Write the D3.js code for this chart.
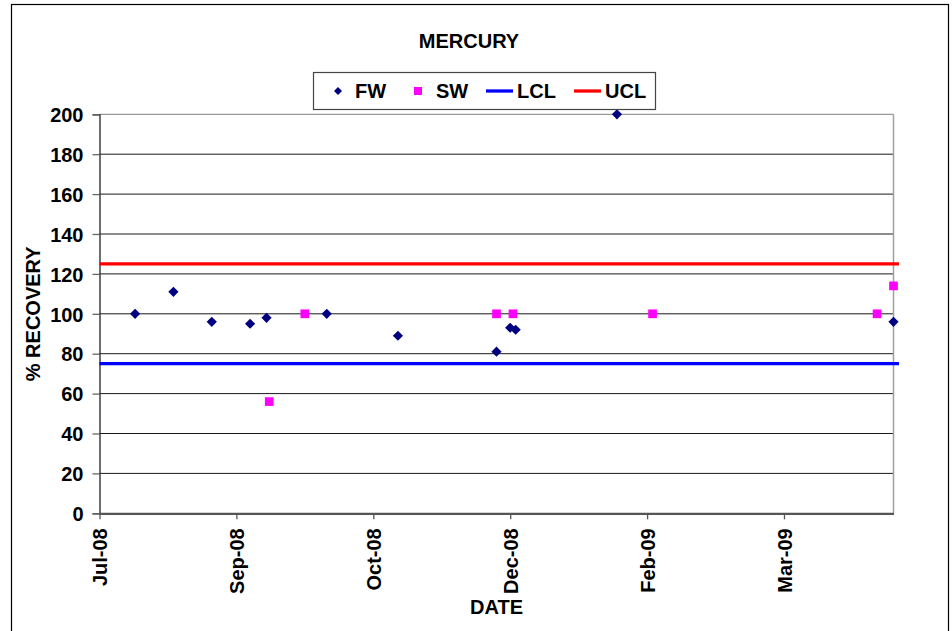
<!DOCTYPE html>
<html>
<head>
<meta charset="utf-8">
<script src="https://cdn.jsdelivr.net/npm/d3@7"></script>
<style>
  html, body { margin: 0; padding: 0; background: #fff; }
  svg { display: block; }
  text { font-family: "Liberation Sans", Arial, sans-serif; font-weight: bold; fill: #000; }
</style>
</head>
<body>
<script>
// Mercury % recovery, quality control chart
const fwDates  = ["2008-08-02","2008-08-16","2008-08-30","2008-09-13","2008-09-19","2008-10-11",
                  "2008-11-06","2008-12-12","2008-12-17","2008-12-19","2009-01-25","2009-05-06"];
const fwValues = [100, 111, 96, 95, 98, 100, 89, 81, 93, 92, 200, 96];

const swDates  = ["2008-09-20","2008-10-03","2008-12-12","2008-12-18","2009-02-07","2009-04-30","2009-05-06"];
const swValues = [56, 100, 100, 100, 100, 100, 114];

const limitDates = ["2008-07-20", "2009-05-08"];
const lclValues  = [75, 75];
const uclValues  = [125, 125];

const yTicks     = [0, 20, 40, 60, 80, 100, 120, 140, 160, 180, 200];
const xTickDates = ["2008-07-20","2008-09-08","2008-10-28","2008-12-17","2009-02-05","2009-03-27"];
const axisDomain = ["2008-07-20", "2009-05-06"];

const legendItems = ["FW", "SW", "LCL", "UCL"];

const W = 952, H = 631;
const plot = { left: 99.5, right: 893.5, top: 114.3, bottom: 513.3 };
const parse = d3.utcParse("%Y-%m-%d");
const fmt = d3.utcFormat("%b-%y");

const svg = d3.select("body").append("svg").attr("width", W).attr("height", H);

// outer frame of the chart
svg.append("rect").attr("x", 11.5).attr("y", 4.5).attr("width", 937).attr("height", 640)
  .attr("fill", "#fff").attr("stroke", "#000").attr("stroke-width", 1.2);

const x = d3.scaleUtc().domain(axisDomain.map(parse)).range([plot.left, plot.right]);
const y = d3.scaleLinear().domain([0, 200]).range([plot.bottom, plot.top]);

// horizontal gridlines
svg.append("g").selectAll("line").data(yTicks.filter(v => v > 0)).join("line")
  .attr("x1", plot.left).attr("x2", plot.right)
  .attr("y1", d => y(d)).attr("y2", d => y(d))
  .attr("stroke", d => d === 200 ? "#808080" : "#1a1a1a").attr("stroke-width", 1);

// right border of plot area
svg.append("line").attr("x1", plot.right).attr("x2", plot.right)
  .attr("y1", plot.top).attr("y2", plot.bottom).attr("stroke", "#a0a0a0").attr("stroke-width", 1.5);

// y axis
const yAxis = d3.axisLeft(y).tickValues(yTicks).tickSize(7).tickPadding(9).tickFormat(d3.format("d"));
const gy = svg.append("g").attr("transform", `translate(${plot.left},0)`).call(yAxis);
gy.select(".domain").attr("stroke", "#222").attr("stroke-width", 1.3);
gy.selectAll(".tick line").attr("stroke", "#666").attr("stroke-width", 1.3);
gy.selectAll(".tick text").style("font-size", "20px").attr("dy", "0.36em");

// x axis
const xAxis = d3.axisBottom(x).tickValues(xTickDates.map(parse)).tickSize(6).tickSizeOuter(0).tickFormat(fmt);
const gx = svg.append("g").attr("transform", `translate(0,${plot.bottom})`).call(xAxis);
gx.select(".domain").attr("stroke", "#555").attr("stroke-width", 2.2);
gx.selectAll(".tick line").attr("stroke", "#555").attr("stroke-width", 1.3);
gx.selectAll(".tick text")
  .style("font-size", "20px")
  .attr("text-anchor", "end")
  .attr("transform", "rotate(-90)")
  .attr("x", -15).attr("y", 0).attr("dy", "0.36em");

// control limit lines
const limitLine = d3.line().x((d, i) => x(parse(limitDates[i]))).y(d => y(d));
svg.append("path").datum(lclValues).attr("d", limitLine)
  .attr("fill", "none").attr("stroke", "#0000ff").attr("stroke-width", 3.3);
svg.append("path").datum(uclValues).attr("d", limitLine)
  .attr("fill", "none").attr("stroke", "#ff0000").attr("stroke-width", 3.3);

// FW markers (diamonds)
const diamond = d3.symbol().type(d3.symbolSquare).size(52)();
svg.append("g").selectAll("path").data(fwValues).join("path")
  .attr("d", diamond)
  .attr("transform", (d, i) => `translate(${x(parse(fwDates[i]))},${y(d)}) rotate(45)`)
  .attr("fill", "#000080");

// SW markers (squares)
const square = d3.symbol().type(d3.symbolSquare).size(76)();
svg.append("g").selectAll("path").data(swValues).join("path")
  .attr("d", square)
  .attr("transform", (d, i) => `translate(${x(parse(swDates[i]))},${y(d)})`)
  .attr("fill", "#ff00ff");

// titles
svg.append("text").attr("x", 469).attr("y", 48).attr("text-anchor", "middle")
  .style("font-size", "20px").text("MERCURY");
svg.append("text").attr("transform", `translate(40,${(plot.top + plot.bottom) / 2}) rotate(-90)`)
  .attr("text-anchor", "middle").style("font-size", "20px").text("% RECOVERY");
svg.append("text").attr("x", (plot.left + plot.right) / 2).attr("y", 614).attr("text-anchor", "middle")
  .style("font-size", "20px").text("DATE");

// legend
const lg = svg.append("g");
lg.append("rect").attr("x", 313.5).attr("y", 72.5).attr("width", 342).attr("height", 37)
  .attr("fill", "#fff").attr("stroke", "#444").attr("stroke-width", 1.2);
const legendY = 91;
const legendLayout = [
  { mark: 338, text: 355 },
  { mark: 418, text: 436 },
  { mark: 486, text: 517 },
  { mark: 574, text: 605 }
];
legendItems.forEach((name, i) => {
  const L = legendLayout[i];
  if (name === "FW") {
    lg.append("path").attr("d", d3.symbol().type(d3.symbolSquare).size(32)())
      .attr("transform", `translate(${L.mark},${legendY}) rotate(45)`).attr("fill", "#000080");
  } else if (name === "SW") {
    lg.append("path").attr("d", d3.symbol().type(d3.symbolSquare).size(64)())
      .attr("transform", `translate(${L.mark},${legendY})`).attr("fill", "#ff00ff");
  } else {
    lg.append("line").attr("x1", L.mark).attr("x2", L.mark + 27)
      .attr("y1", legendY).attr("y2", legendY)
      .attr("stroke", name === "LCL" ? "#0000ff" : "#ff0000").attr("stroke-width", 3.3);
  }
  lg.append("text").attr("x", L.text).attr("y", 98).style("font-size", "20px").text(name);
});
</script>
</body>
</html>
